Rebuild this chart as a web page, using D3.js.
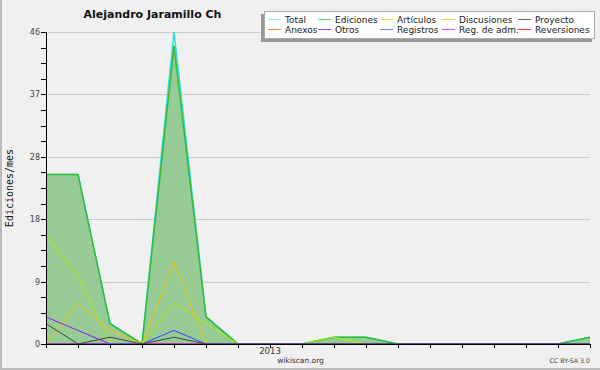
<!DOCTYPE html>
<html><head><meta charset="utf-8">
<script src="https://cdn.jsdelivr.net/npm/d3@7"></script>
<style>html,body{margin:0;padding:0;background:#f0f0f0;}svg{display:block;}</style>
</head><body>
<svg id="c" width="600" height="370"></svg>
<script>
const months = ["2012-06","2012-07","2012-08","2012-09","2012-10","2012-11","2012-12","2013-01","2013-02","2013-03","2013-04","2013-05","2013-06","2013-07","2013-08","2013-09","2013-10","2013-11"];
const total       = [25,25,3,0,46,4,0,0,0,1,1,0,0,0,0,0,0,1];
const ediciones   = [25,25,3,0,44,4,0,0,0,1,1,0,0,0,0,0,0,1];
const articulos   = [16,10,0,0,6,3,0,0,0,1,0,0,0,0,0,0,0,0];
const discusiones = [0,6,2,0,12,0,0,0,0,0,0,0,0,0,0,0,0,0];
const proyecto    = [3,0,1,0,1,0,0,0,0,0,0,0,0,0,0,0,0,0];
const anexos      = [0,0,0,0,0,0,0,0,0,0,0,0,0,0,0,0,0,0];
const otros       = [4,2,0,0,0,0,0,0,0,0,0,0,0,0,0,0,0,0];
const registros   = [0,0,0,0,2,0,0,0,0,0,0,0,0,0,0,0,0,0];
const regAdm      = [0,0,0,0,0,0,0,0,0,0,0,0,0,0,0,0,0,0];
const reversiones = [0,0,0,0,0,0,0,0,0,0,0,0,0,0,0,0,0,0];
const yMax = 46;
const yTickLabels = ["0","9","18","28","37","46"];
const legendNames = ["Total","Ediciones","Artículos","Discusiones","Proyecto","Anexos","Otros","Registros","Reg. de adm.","Reversiones"];
const legendColors = ["#99eeee","#66cc66","#ccee44","#ffcc33","#666666","#ff8844","#9944ee","#7788ff","#ee44ee","#ff3333"];
const title = "Alejandro Jaramillo Ch";

const svg = d3.select("#c");
const L = 46, R = 590, T = 32, B = 344;
svg.append("rect").attr("width",600).attr("height",370).attr("fill","#f0f0f0");
svg.append("rect").attr("x",0).attr("y",0).attr("width",2).attr("height",370).attr("fill","#bbbbbb");
svg.append("rect").attr("x",0).attr("y",368).attr("width",600).attr("height",2).attr("fill","#bbbbbb");

const x = d3.scalePoint().domain(months).range([L,R]);
const y = d3.scaleLinear().domain([0,yMax]).range([B,T]);

// grid
const majors = d3.range(0,6).map(i=>i*yMax/5);
const minors = d3.range(0,21).map(i=>i*yMax/20);
svg.append("g").selectAll("line").data(majors.slice(1)).join("line")
  .attr("x1",L).attr("x2",R).attr("y1",d=>Math.round(y(d))+0.5).attr("y2",d=>Math.round(y(d))+0.5)
  .attr("stroke","#cccccc").attr("stroke-width",1);

const line = arr => d3.line().x((d,i)=>x(months[i])).y(d=>y(d))(arr);
const area = d3.area().x((d,i)=>x(months[i])).y0(B).y1(d=>y(d));

svg.append("path").attr("d",area(ediciones)).attr("fill","#96cb96");
svg.append("path").attr("d",line(total)).attr("fill","none").attr("stroke","#33dddd").attr("stroke-width",1.5);
svg.append("path").attr("d",line(ediciones)).attr("fill","none").attr("stroke","#33bb33").attr("stroke-width",1.5);
const others = [
  [anexos,"#ff8833"],[regAdm,"#ee33ee"],[reversiones,"#ff3333"],
  [articulos,"#aaee00"],[discusiones,"#f5c400"],[otros,"#8822ee"],[registros,"#3344ff"],[proyecto,"#444444"]
];
others.forEach(([arr,c])=>{
  svg.append("path").attr("d",line(arr)).attr("fill","none").attr("stroke",c).attr("stroke-width",1);
});

// axes
const ax = svg.append("g");
ax.append("line").attr("x1",L).attr("x2",R+1).attr("y1",B+0.5).attr("y2",B+0.5).attr("stroke","#000");
ax.append("line").attr("x1",L+0.5).attr("x2",L+0.5).attr("y1",T).attr("y2",B+1).attr("stroke","#000");
ax.selectAll(".xt").data(months).join("line").attr("class","xt")
  .attr("x1",d=>Math.round(x(d))+0.5).attr("x2",d=>Math.round(x(d))+0.5).attr("y1",B).attr("y2",B+4).attr("stroke","#000");
ax.selectAll(".yt").data(minors).join("line").attr("class","yt")
  .attr("x1",L-5).attr("x2",L).attr("y1",d=>Math.round(y(d))+0.5).attr("y2",d=>Math.round(y(d))+0.5).attr("stroke","#000");
ax.selectAll(".yl").data(majors).join("text").attr("class","yl")
  .attr("x",L-6).attr("y",d=>y(d)+3).attr("text-anchor","end")
  .attr("font-family","DejaVu Sans").attr("font-size",8).attr("fill","#444")
  .text((d,i)=>yTickLabels[i]);
ax.selectAll(".xl").data(months.filter(m=>m.endsWith("-01"))).join("text").attr("class","xl")
  .attr("x",d=>x(d)).attr("y",354).attr("text-anchor","middle")
  .attr("font-family","DejaVu Sans").attr("font-size",8.5).attr("fill","#333")
  .text(d=>d.slice(0,4));

// title & labels
svg.append("text").attr("x",152.5).attr("y",18).attr("text-anchor","middle")
  .attr("font-family","DejaVu Sans").attr("font-weight","bold").attr("font-size",11).attr("fill","#111").text(title);
svg.append("text").attr("transform","translate(13,188) rotate(-90)").attr("text-anchor","middle")
  .attr("font-family","DejaVu Sans Mono").attr("font-size",10).attr("fill","#111").text("Ediciones/mes");
svg.append("text").attr("x",300.5).attr("y",363).attr("text-anchor","middle")
  .attr("font-family","DejaVu Sans").attr("font-size",7.5).attr("fill","#333").text("wikiscan.org");
svg.append("text").attr("x",590).attr("y",363).attr("text-anchor","end")
  .attr("font-family","DejaVu Sans").attr("font-size",6.3).attr("fill","#444").text("CC BY-SA 3.0");

// legend
const lg = svg.append("g");
lg.append("rect").attr("x",261).attr("y",14).attr("width",331).attr("height",28).attr("fill","#999999");
lg.append("rect").attr("x",264.5).attr("y",11.5).attr("width",330).attr("height",27).attr("fill","#ffffff").attr("stroke","#aaaaaa");
const colX = [268,318,380,442,518];
const rowY = [19,29];
legendNames.forEach((n,i)=>{
  const cx = colX[i%5], cy = rowY[Math.floor(i/5)];
  lg.append("line").attr("x1",cx).attr("x2",cx+13).attr("y1",cy+0.5).attr("y2",cy+0.5).attr("stroke",legendColors[i]).attr("stroke-width",1);
  lg.append("text").attr("x",cx+17).attr("y",cy+3.5).attr("font-family","DejaVu Sans").attr("font-size",9).attr("fill","#222").text(n);
});
</script>
</body></html>
